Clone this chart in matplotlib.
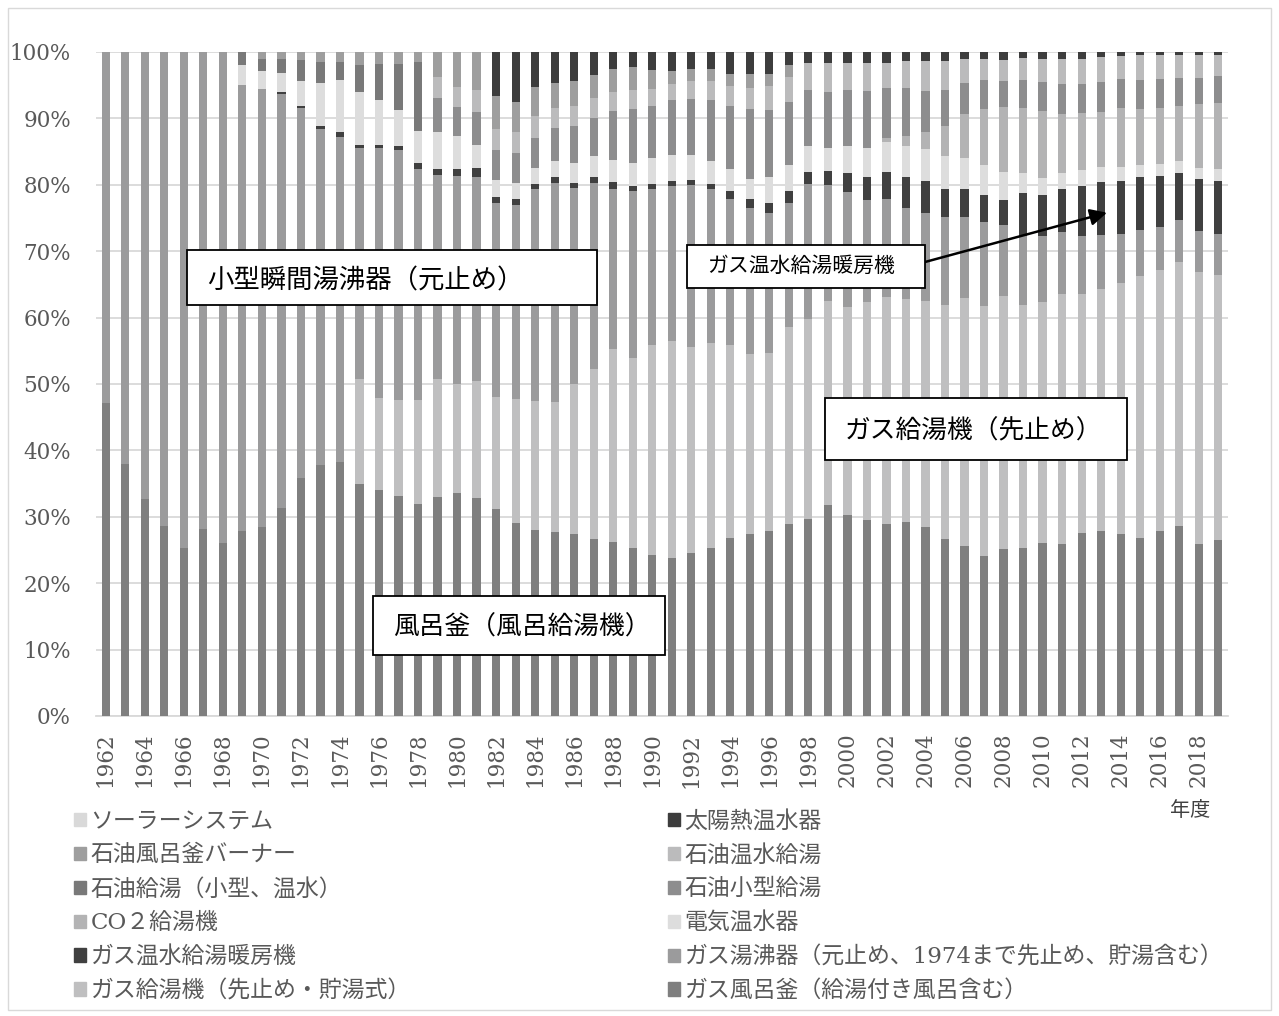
import numpy as np
import matplotlib
matplotlib.use('Agg')
import matplotlib.pyplot as plt
from matplotlib.patches import Patch, Rectangle

plt.rcParams['font.family'] = ['DejaVu Serif', 'Noto Sans CJK JP']

years = list(range(1962, 2020))

# shares by appliance type [%], bottom of the stack first
gas_bath = [47.2, 37.9, 32.7, 28.6, 25.3, 28.1, 26.0, 27.8, 28.5, 31.4, 35.9, 37.9, 38.3, 35.0, 34.1, 33.2,
            32.0, 33.0, 33.5, 32.9, 31.2, 29.0, 28.0, 27.7, 27.4, 26.6, 26.3, 25.3, 24.2, 23.8, 24.5, 25.4,
            26.8, 27.4, 27.8, 29.0, 29.6, 31.8, 30.3, 29.5, 28.9, 29.3, 28.4, 26.6, 25.6, 24.1, 25.1, 25.4,
            26.0, 25.9, 27.6, 27.9, 27.4, 26.9, 27.9, 28.7, 25.9, 26.5]
gas_heater = [0] * 13 + [15.7, 13.8, 14.4, 15.7, 17.8, 16.4, 17.6, 16.9, 18.7, 19.4, 19.6, 22.7, 25.7, 29.0,
                         28.7, 31.7, 32.8, 31.2, 30.9, 29.1, 27.1, 26.9, 29.6, 30.2, 30.7, 31.3, 32.9, 34.3,
                         33.6, 34.1, 35.3, 37.3, 37.8, 38.1, 36.6, 36.3, 37.7, 36.0, 36.4, 37.9, 39.5, 39.3,
                         39.8, 41.0, 39.8]
gas_boiler = [52.8, 62.1, 67.3, 71.4, 74.7, 71.9, 74.0, 67.2, 66.0, 62.4, 55.6, 50.6, 49.0, 34.9, 37.6, 37.6,
              34.8, 30.7, 31.3, 30.8, 29.1, 29.3, 32.0, 33.0, 29.5, 28.0, 24.1, 25.1, 23.5, 23.4, 24.3, 23.1,
              22.0, 22.1, 21.0, 18.7, 20.3, 17.5, 17.2, 15.3, 14.7, 13.7, 13.3, 13.2, 12.3, 12.7, 10.6, 10.4,
              10.0, 9.3, 8.8, 8.2, 7.3, 7.0, 6.5, 6.3, 6.2, 6.2]
gas_heating = [0] * 9 + [0.3, 0.3, 0.5, 0.8, 0.4, 0.5, 0.6, 0.9, 0.9, 1.1, 1.3, 0.9, 0.8, 0.7, 0.8, 0.8,
                         0.9, 1.1, 0.8, 0.7, 0.8, 0.8, 0.8, 1.3, 1.3, 1.5, 1.8, 1.9, 2.1, 2.9, 3.4, 4.1,
                         4.7, 4.7, 4.3, 4.1, 4.0, 3.8, 6.5, 6.2, 6.6, 7.5, 8.0, 8.0, 7.9, 7.6, 7.0, 7.7, 8.0]
electric = [0] * 7 + [3.0, 2.7, 2.9, 3.9, 6.4, 7.9, 8.0, 6.7, 5.4, 4.8, 5.7, 4.9, 3.5, 2.6, 2.4, 2.4, 2.5,
                      3.0, 3.1, 3.3, 3.5, 3.9, 3.9, 3.8, 3.5, 3.3, 3.1, 3.9, 3.9, 3.9, 3.6, 4.1, 4.4, 4.5,
                      4.6, 4.9, 5.0, 4.7, 4.6, 4.2, 3.1, 2.5, 2.3, 2.4, 2.3, 2.2, 1.9, 1.9, 1.8, 1.8, 1.8]
co2 = [0] * 40 + [0.7, 1.5, 2.5, 4.5, 6.7, 8.4, 9.9, 9.7, 10.1, 9.0, 8.6, 8.3, 8.8, 8.4, 8.4, 8.4, 9.5, 10.0]
oil_small = [0] * 17 + [5.0, 4.5, 5.0, 4.5, 4.6, 4.6, 5.0, 5.6, 5.8, 7.4, 8.1, 7.8, 8.2, 8.4, 9.1, 9.5,
                        10.5, 10.2, 9.5, 8.4, 8.4, 8.4, 8.7, 7.5, 7.3, 6.3, 5.4, 4.6, 4.4, 3.9, 4.3, 4.4,
                        4.5, 4.4, 4.5, 4.4, 4.4, 4.4, 4.2, 4.0, 4.0]
oil_combined = [0] * 7 + [2.0, 1.9, 2.0, 3.1, 3.2, 2.7, 4.0, 5.5, 7.0, 10.4] + [0] * 41
oil_hot_water = [0] * 17 + [3.2, 2.9, 3.3, 3.2, 3.2, 3.3, 3.0, 3.0, 3.0, 2.9, 2.9, 2.6, 2.5, 2.7, 2.9, 3.0,
                            3.2, 3.6, 3.8, 4.1, 4.4, 4.1, 4.2, 3.8, 4.1, 4.5, 4.4, 3.6, 3.2, 3.1, 3.3, 3.5,
                            3.8, 3.8, 3.7, 3.5, 3.7, 3.5, 3.4, 3.4, 3.2]
oil_bath = [0] * 8 + [1.0, 1.1, 1.2, 1.5, 1.5, 2.0, 1.8, 1.8, 1.5, 3.8, 5.3, 5.7, 4.9, 4.5, 4.4, 3.7, 3.7,
                      3.4, 3.5, 3.5, 2.9, 1.9, 1.8, 1.8, 1.8, 2.1, 1.8, 1.8] + [0] * 22
solar_heater = [0] * 20 + [6.7, 7.5, 5.2, 4.7, 4.4, 3.5, 2.5, 2.2, 2.7, 2.9, 2.6, 2.6, 3.3, 3.3, 3.3, 2.0,
                           1.6, 1.6, 1.6, 1.6, 1.6, 1.3, 1.3, 1.3, 1.1, 1.0, 1.2, 0.9, 1.0, 1.0, 1.0, 0.8,
                           0.6, 0.5, 0.5, 0.5, 0.5, 0.4]
solar_system = [0] * 58

series = [
    ('ガス風呂釜（給湯付き風呂含む）', gas_bath, '#7f7f7f'),
    ('ガス給湯機（先止め・貯湯式）', gas_heater, '#bfbfc0'),
    ('ガス湯沸器（元止め、1974まで先止め、貯湯含む）', gas_boiler, '#9b9b9c'),
    ('ガス温水給湯暖房機', gas_heating, '#404040'),
    ('電気温水器', electric, '#dddddd'),
    ('CO２給湯機', co2, '#b3b3b4'),
    ('石油小型給湯', oil_small, '#8d8d8e'),
    ('石油給湯（小型、温水）', oil_combined, '#797979'),
    ('石油温水給湯', oil_hot_water, '#bbbbbc'),
    ('石油風呂釜バーナー', oil_bath, '#9e9e9e'),
    ('太陽熱温水器', solar_heater, '#3d3d3d'),
    ('ソーラーシステム', solar_system, '#d9d9d9'),
]

W, H = 1279, 1016


def px(x, y):
    return x / W, 1 - y / H


fig = plt.figure(figsize=(W / 100, H / 100), dpi=100)
ax = fig.add_axes([96 / W, 1 - 716 / H, (1228 - 96) / W, (716 - 52) / H])

x = np.arange(len(years))
vals = np.array([s[1] for s in series], dtype=float)
shares = vals / vals.sum(axis=0) * 100  # 100% stacked
bottom = np.zeros(len(years))
for (name, _, col), v in zip(series, shares):
    ax.bar(x, v, bottom=bottom, width=0.42, color=col, linewidth=0, zorder=3)
    bottom += v

ax.set_xlim(-0.5, len(years) - 0.5)
ax.set_ylim(0, 100)
ax.set_yticks(range(0, 101, 10))
ax.set_yticklabels([f'{t}%' for t in range(0, 101, 10)])
ax.set_xticks(x[::2])
ax.set_xticklabels([str(y) for y in years[::2]], rotation=90)
ax.tick_params(length=0, labelsize=15.5, labelcolor='#595959')
ax.tick_params(axis='y', pad=18)
ax.tick_params(axis='x', pad=12)
ax.grid(axis='y', color='#d9d9d9', lw=1.3, zorder=0)
ax.set_axisbelow(True)
for sp in ['top', 'left', 'right']:
    ax.spines[sp].set_visible(False)
ax.spines['bottom'].set_color('#d9d9d9')
ax.spines['bottom'].set_linewidth(1.3)

# legend in two columns, filled row by row from the top of the stack
handles = [Patch(color=c, label=n) for n, _, c in series][::-1]
leg_kw = dict(loc='upper left', frameon=False, fontsize=16.5, labelcolor='#595959',
              handlelength=0.5, handleheight=0.5, handletextpad=0.2, labelspacing=0.52, borderpad=0)
fig.legend(handles=handles[0::2], bbox_to_anchor=px(63, 799), **leg_kw)
fig.legend(handles=handles[1::2], bbox_to_anchor=px(657, 799), **leg_kw)

fig.text(*px(1190, 810), '年度', ha='center', va='center', fontsize=14.5, color='#404040')

# callout boxes
boxes = [
    ((187, 250, 597, 305), (207, 281), '小型瞬間湯沸器（元止め）', 19),
    ((687, 245, 925, 288), (707, 266), 'ガス温水給湯暖房機', 15),
    ((825, 398, 1127, 460), (845, 431), 'ガス給湯機（先止め）', 18.5),
    ((373, 596, 665, 655), (393, 627), '風呂釜（風呂給湯機）', 18.5),
]
for (x0, y0, x1, y1), (tx, ty), txt, fs in boxes:
    fig.add_artist(Rectangle(px(x0, y1), (x1 - x0) / W, (y1 - y0) / H, transform=fig.transFigure,
                             facecolor='white', edgecolor='black', lw=1.3, zorder=5))
    fig.text(*px(tx, ty), txt, ha='left', va='center', fontsize=fs, color='black', zorder=6)

ax.annotate('', xy=(51.3, 75.8), xycoords='data', xytext=(925, H - 262), textcoords='figure pixels',
            arrowprops=dict(arrowstyle='-|>', color='black', lw=1.8, mutation_scale=25,
                            shrinkA=0, shrinkB=0), zorder=6)

# chart border
fig.add_artist(Rectangle(px(8, 1010), (1271 - 8) / W, (1010 - 8) / H, transform=fig.transFigure,
                         facecolor='none', edgecolor='#d9d9d9', lw=1))

fig.savefig('out.png', dpi=100)
